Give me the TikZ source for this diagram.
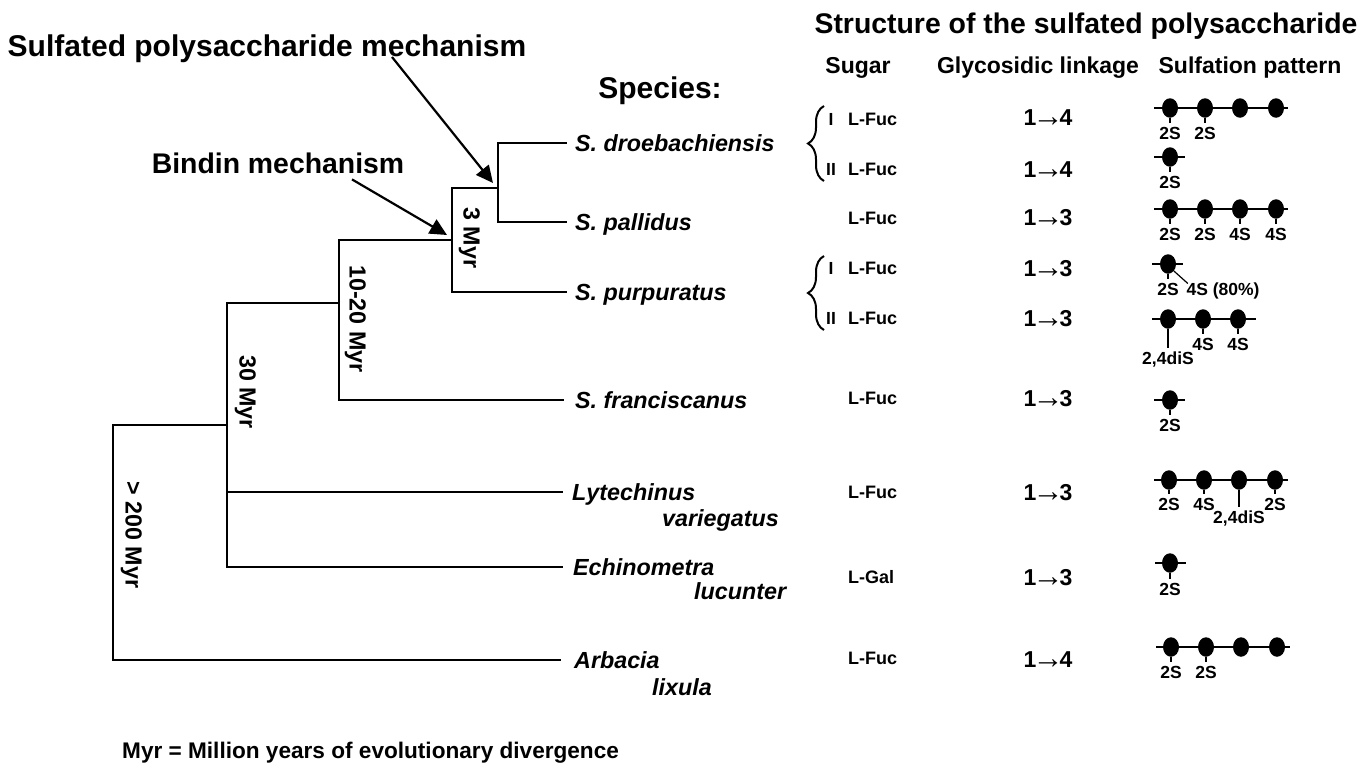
\documentclass[tikz,border=0pt]{standalone}
\usepackage{fontspec}
\setmainfont{Liberation Sans}
\usetikzlibrary{arrows.meta, positioning, decorations.pathreplacing, shapes.geometric}

\begin{document}
\begin{tikzpicture}[
    x=1pt, y=-1pt,
    every node/.style={inner sep=0pt, text depth=0pt, font=\bfseries},
    head/.style={text height=20.4pt, font=\fontsize{28.4}{30}\selectfont\bfseries},
    bighead/.style={text height=21.6pt, font=\fontsize{30}{32}\selectfont\bfseries},
    colhead/.style={text height=16.5pt, font=\fontsize{23}{25}\selectfont\bfseries},
    species/.style={anchor=west, inner xsep=9pt, text height=16.8pt, font=\fontsize{23.3}{26}\selectfont\bfseries\itshape},
    spcont/.style={species, inner xsep=0pt},
    myr/.style={rotate=-90, text height=16.8pt, font=\fontsize{23.3}{25}\selectfont\bfseries},
    sugarname/.style={anchor=west, text height=13pt, font=\fontsize{18}{20}\selectfont\bfseries},
    form/.style={text height=12.6pt, font=\fontsize{17.5}{19}\selectfont\bfseries},
    linkage/.style={text height=16.5pt, font=\fontsize{23}{25}\selectfont\bfseries},
    sulf/.style={form, inner ysep=4pt},
    sugar/.style={ellipse, fill=black, minimum width=16pt, minimum height=19.5pt},
    branch/.style={line width=2.4pt, draw=black, line cap=rect},
    pointer/.style={-{Triangle[length=17pt, width=16pt]}, line width=2.2pt, draw=black},
    chain/.style={line width=2pt, draw=black},
    stem/.style={line width=1.2pt, draw=black},
    forms/.style={decorate, decoration={brace, amplitude=16pt}, line width=2pt, draw=black}
  ]
    \useasboundingbox (0,0) rectangle (1362,763);

    % titles
    \node[head] (title) at (1086,23) {Structure of the sulfated polysaccharide};
    \node[bighead] (sulfmech) at (267,46) {Sulfated polysaccharide mechanism};
    \node[head] (bindmech) at (278,163) {Bindin mechanism};
    \node[bighead] (spechead) at (660,88) {Species:};
    \node[colhead] (sugarhead) at (858,65) {Sugar};
    \node[colhead] (linkhead) at (1038,65) {Glycosidic linkage};
    \node[colhead] (patthead) at (1250,65) {Sulfation pattern};
    \node[colhead, anchor=west, text height=16pt, font=\fontsize{22.6}{25}\selectfont\bfseries] (foot) at (122,750) {Myr = Million years of evolutionary divergence};

    % species
    \node[species] (dro) at (566,143) {S. droebachiensis};
    \node[species] (pal) at (566,222) {S. pallidus};
    \node[species] (pur) at (566,292) {S. purpuratus};
    \node[species, inner xsep=12pt] (fra) at (563,400) {S. franciscanus};
    \node[species, inner xsep=10pt] (lyt) at (562,492) {Lytechinus};
    \node[spcont] (lyt2) at (662,518) {variegatus};
    \node[species, inner xsep=11pt] (ech) at (562,567) {Echinometra};
    \node[spcont] (ech2) at (694,591) {lucunter};
    \node[species, inner xsep=14pt] (arb) at (560,660) {Arbacia};
    \node[spcont] (arb2) at (652,687) {lixula};

    % tree
    \coordinate (j200) at (113,425);
    \coordinate (j30) at (227,425);
    \coordinate (b30) at (227,303);
    \coordinate (j1020) at (339,303);
    \coordinate (b1020) at (339,240);
    \coordinate (j3) at (452,240);
    \coordinate (b3) at (452,188);
    \coordinate (j0) at (498,188);

    \draw[branch] (j30) -- (j200) |- (arb.west);
    \draw[branch] (j1020) -- (b30) |- (ech.west);
    \draw[branch] (lyt.west) -- (lyt.west -| j30);
    \draw[branch] (j3) -- (b1020) |- (fra.west);
    \draw[branch] (j0) -- (b3) |- (pur.west);
    \draw[branch] (dro.west) -| (j0) |- (pal.west);

    \node[myr] (m200) at (134,535) {> 200 Myr};
    \node[myr] (m30) at (248,392) {30 Myr};
    \node[myr] (m1020) at (358,319) {10-20 Myr};
    \node[myr] (m3) at (472,238) {3 Myr};

    \coordinate (sulftip) at (493,183);
    \coordinate (bindtip) at (447,235);
    \draw[pointer] ([xshift=125pt]sulfmech.south) -- (sulftip);
    \draw[pointer] ([xshift=74pt, yshift=-6pt]bindmech.south) -- (bindtip);

    % sugars and linkages
    \foreach \nm/\txt/\yy in {s1/L-Fuc/119, s2/L-Fuc/169, s3/L-Fuc/218,
        s4/L-Fuc/268, s5/L-Fuc/318, s6/L-Fuc/398, s7/L-Fuc/492,
        s8/L-Gal/577, s9/L-Fuc/658}
      \node[sugarname] (\nm) at (848,\yy) {\txt};
    \foreach \nm/\aa/\bb/\zz in {k1/1/4/117, k2/1/4/169, k3/1/3/217, k4/1/3/268, k5/1/3/318,
        k6/1/3/398, k7/1/3/492, k8/1/3/577, k9/1/4/659}
      \node[linkage] (\nm) at (1048,\zz) {\aa\hspace{-4pt}\raisebox{-1.5pt}{\fontsize{31}{31}\selectfont\mdseries →}\hspace{-4pt}\bb};

    \node[form] (f1) at (831,119) {I};
    \node[form] (f2) at (831,169) {II};
    \node[form] (f4) at (831,268) {I};
    \node[form] (f5) at (831,318) {II};
    \coordinate (braTa) at (824,106);
    \coordinate (braBa) at (824,181);
    \coordinate (braTb) at (824,256);
    \coordinate (braBb) at (824,330);
    \draw[forms] (braBa) -- (braTa);
    \draw[forms] (braBb) -- (braTb);

    % sulfation pattern
    \foreach \nm/\xx/\yy in {a1/1170/108, a2/1205/108, a3/1240/108, a4/1276/108,
        b1/1170/157,
        c1/1170/209, c2/1205/209, c3/1240/209, c4/1276/209,
        d1/1168/264,
        e1/1168/319, e2/1203/319, e3/1238/319,
        f1x/1170/400,
        g1/1169/480, g2/1204/480, g3/1239/480, g4/1275/480,
        h1/1170/563,
        i1/1171/647, i2/1206/647, i3/1241/647, i4/1277/647}
      \node[sugar] (\nm) at (\xx,\yy) {};

    \foreach \aa/\ll/\bb/\rr in {a1/16/a4/12, b1/16/b1/15, c1/16/c4/12, d1/16/d1/15,
        e1/16/e3/18, f1x/16/f1x/15, g1/15/g4/13, h1/15/h1/16, i1/15/i4/13}
      \draw[chain] ([xshift=-\ll pt]\aa.center) -- ([xshift=\rr pt]\bb.center);

    \foreach \nm/\txt/\xx/\yy in {a1/2S/1170/133, a2/2S/1205/133,
        b1/2S/1170/182,
        c1/2S/1170/234, c2/2S/1205/234, c3/4S/1240/234, c4/4S/1276/234,
        d1/2S/1168/289,
        e1/{2,4diS}/1168/358, e2/4S/1203/344, e3/4S/1238/344,
        f1x/2S/1170/425,
        g1/2S/1169/504, g2/4S/1204/504, g3/{2,4diS}/1239/517, g4/2S/1275/504,
        h1/2S/1170/589,
        i1/2S/1171/672, i2/2S/1206/672}
      {
        \node[sulf] (l\nm) at (\xx,\yy) {\txt};
        \draw[stem] (\nm) -- (l\nm);
      }

    \node[sulf] (ld1b) at (1223,289) {4S (80\%)};
    \draw[stem] (d1.-50) -- ([xshift=1.5pt, yshift=-5pt]ld1b.north west);
\end{tikzpicture}
\end{document}
